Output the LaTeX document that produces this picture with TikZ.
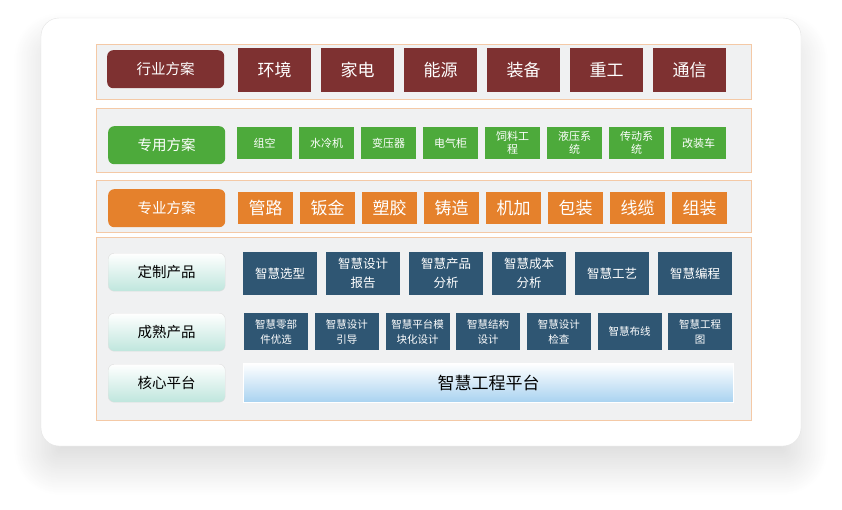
\documentclass[tikz,border=0pt]{standalone}
\usepackage{fontspec}
\setmainfont{Noto Sans CJK SC}
\usetikzlibrary{shadows.blur}
\definecolor{hangred}{HTML}{7E3131}
\definecolor{yonggreen}{HTML}{4DAA3B}
\definecolor{yeorange}{HTML}{E5812C}
\definecolor{prodblue}{HTML}{2F5673}
\definecolor{panelgray}{HTML}{F0F1F2}
\definecolor{paneledge}{HTML}{F4C9A6}
\definecolor{labteal}{HTML}{BFE6DD}
\definecolor{barblue}{HTML}{A8D2F0}
\begin{document}
\begin{tikzpicture}[x=1pt,y=-1pt,
  panel/.style={draw=paneledge,fill=panelgray,line width=0.8pt},
  tile/.style={anchor=north west,inner sep=0pt,text=white,align=center},
  lab/.style={tile,rounded corners=6pt,minimum width=117pt,minimum height=38pt,font=\fontsize{14.5}{16}\selectfont},
  tealbox/.style={lab,text=black,top color=white,bottom color=labteal,draw=gray!25,line width=0.4pt}]
\useasboundingbox (0,0) rectangle (842,509);
% card
\fill[white,rounded corners=18pt,blur shadow={shadow xshift=0pt,shadow yshift=-22pt,shadow blur radius=28pt,shadow blur steps=30,shadow opacity=14}] (41,18) rectangle (801,446);
\draw[gray!22,rounded corners=18pt] (41,18) rectangle (801,446);
% panels
\draw[panel] (96,44) rectangle (751,99);
\draw[panel] (96,108) rectangle (751,172);
\draw[panel] (96,180) rectangle (751,232);
\draw[panel] (96,237) rectangle (751,420);
% row 1
\node[lab,fill=hangred] (hangye) at (107,50) {行业方案};
\foreach \t [count=\i] in {环境,家电,能源,装备,重工,通信}
  \node[tile,fill=hangred,minimum width=73pt,minimum height=44pt,font=\fontsize{17}{18}\selectfont] (hy\i) at ({238+83*(\i-1)},48) {\t};
% row 2
\node[lab,fill=yonggreen] (zhuanyong) at (108,126) {专用方案};
\foreach \t [count=\i] in {组空,水冷机,变压器,电气柜,{饲料工\\程},{液压系\\统},{传动系\\统},改装车}
  \node[tile,fill=yonggreen,minimum width=55pt,minimum height=32pt,font=\fontsize{11}{13}\selectfont] (zy\i) at ({237+62*(\i-1)},127) {\t};
% row 3
\node[lab,fill=yeorange] (zhuanye) at (108,189) {专业方案};
\foreach \t [count=\i] in {管路,钣金,塑胶,铸造,机加,包装,线缆,组装}
  \node[tile,fill=yeorange,minimum width=55pt,minimum height=32pt,font=\fontsize{17}{19}\selectfont] (zp\i) at ({238+62*(\i-1)},192) {\t};
% products
\node[tealbox] (dingzhi) at (108,253) {定制产品};
\node[tealbox] (chengshu) at (108,313) {成熟产品};
\node[tealbox] (hexin) at (108,364) {核心平台};
\foreach \t [count=\i] in {智慧选型,{智慧设计\\报告},{智慧产品\\分析},{智慧成本\\分析},智慧工艺,智慧编程}
  \node[tile,fill=prodblue,minimum width=74pt,minimum height=43pt,font=\fontsize{12.5}{19}\selectfont] (dz\i) at ({243+83*(\i-1)},252) {\t};
\foreach \t [count=\i] in {{智慧零部\\件优选},{智慧设计\\引导},{智慧平台模\\块化设计},{智慧结构\\设计},{智慧设计\\检查},智慧布线,{智慧工程\\图}}
  \node[tile,fill=prodblue,minimum width=64pt,minimum height=37pt,font=\fontsize{10.5}{15}\selectfont] (cs\i) at ({244+70.67*(\i-1)},313) {\t};
\node[tile,text=black,top color=white,bottom color=barblue,draw=white,line width=1pt,minimum width=490pt,minimum height=39pt,font=\fontsize{17}{19}\selectfont] (pingtai) at (243,363) {智慧工程平台};
\end{tikzpicture}
\end{document}
